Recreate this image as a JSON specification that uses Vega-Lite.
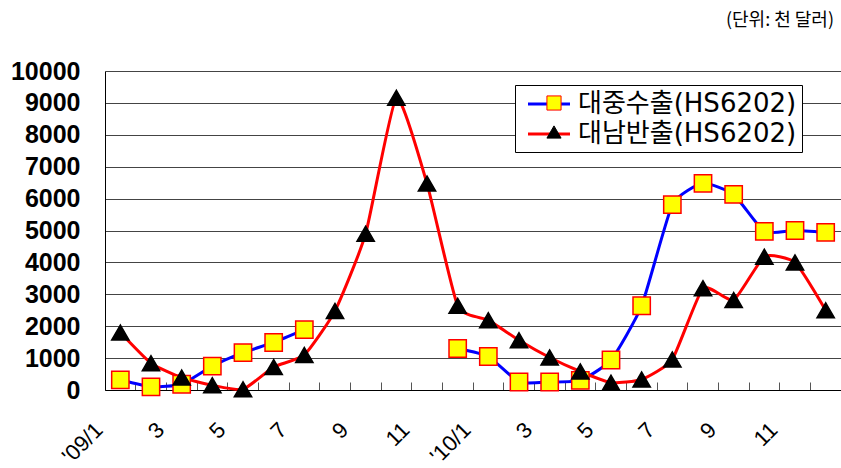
{
  "$schema": "https://vega.github.io/schema/vega-lite/v6.json",
  "width": 736,
  "height": 319,
  "autosize": {"type": "none"},
  "padding": {"left": 105, "top": 71, "right": 0, "bottom": 78},
  "background": "white",
  "title": {
    "text": "(단위: 천 달러)",
    "anchor": "end",
    "orient": "top",
    "offset": 29,
    "dx": -7,
    "font": "Noto Sans CJK KR",
    "fontSize": 18,
    "fontWeight": "normal",
    "color": "black"
  },
  "config": {
    "view": {"stroke": null},
    "legend": {"orient": "none", "title": null}
  },
  "data": {
    "values": [
      {"m": "2009-01", "s": "대중수출(HS6202)", "part": "a", "v": 320},
      {"m": "2009-02", "s": "대중수출(HS6202)", "part": "a", "v": 100},
      {"m": "2009-03", "s": "대중수출(HS6202)", "part": "a", "v": 180},
      {"m": "2009-04", "s": "대중수출(HS6202)", "part": "a", "v": 750},
      {"m": "2009-05", "s": "대중수출(HS6202)", "part": "a", "v": 1170},
      {"m": "2009-06", "s": "대중수출(HS6202)", "part": "a", "v": 1490},
      {"m": "2009-07", "s": "대중수출(HS6202)", "part": "a", "v": 1890},
      {"m": "2009-12", "s": "대중수출(HS6202)", "part": "b", "v": 1300},
      {"m": "2010-01", "s": "대중수출(HS6202)", "part": "b", "v": 1050},
      {"m": "2010-02", "s": "대중수출(HS6202)", "part": "b", "v": 250},
      {"m": "2010-03", "s": "대중수출(HS6202)", "part": "b", "v": 250},
      {"m": "2010-04", "s": "대중수출(HS6202)", "part": "b", "v": 300},
      {"m": "2010-05", "s": "대중수출(HS6202)", "part": "b", "v": 940},
      {"m": "2010-06", "s": "대중수출(HS6202)", "part": "b", "v": 2640},
      {"m": "2010-07", "s": "대중수출(HS6202)", "part": "b", "v": 5810},
      {"m": "2010-08", "s": "대중수출(HS6202)", "part": "b", "v": 6480},
      {"m": "2010-09", "s": "대중수출(HS6202)", "part": "b", "v": 6130},
      {"m": "2010-10", "s": "대중수출(HS6202)", "part": "b", "v": 4970},
      {"m": "2010-11", "s": "대중수출(HS6202)", "part": "b", "v": 5000},
      {"m": "2010-12", "s": "대중수출(HS6202)", "part": "b", "v": 4940},
      {"m": "2009-01", "s": "대남반출(HS6202)", "part": "a", "v": 1800},
      {"m": "2009-02", "s": "대남반출(HS6202)", "part": "a", "v": 840},
      {"m": "2009-03", "s": "대남반출(HS6202)", "part": "a", "v": 390},
      {"m": "2009-04", "s": "대남반출(HS6202)", "part": "a", "v": 150},
      {"m": "2009-05", "s": "대남반출(HS6202)", "part": "a", "v": 20},
      {"m": "2009-06", "s": "대남반출(HS6202)", "part": "a", "v": 720},
      {"m": "2009-07", "s": "대남반출(HS6202)", "part": "a", "v": 1100},
      {"m": "2009-08", "s": "대남반출(HS6202)", "part": "a", "v": 2480},
      {"m": "2009-09", "s": "대남반출(HS6202)", "part": "a", "v": 4900},
      {"m": "2009-10", "s": "대남반출(HS6202)", "part": "a", "v": 9160},
      {"m": "2009-11", "s": "대남반출(HS6202)", "part": "a", "v": 6470},
      {"m": "2009-12", "s": "대남반출(HS6202)", "part": "a", "v": 2640},
      {"m": "2010-01", "s": "대남반출(HS6202)", "part": "a", "v": 2190},
      {"m": "2010-02", "s": "대남반출(HS6202)", "part": "a", "v": 1560},
      {"m": "2010-03", "s": "대남반출(HS6202)", "part": "a", "v": 1020},
      {"m": "2010-04", "s": "대남반출(HS6202)", "part": "a", "v": 580},
      {"m": "2010-05", "s": "대남반출(HS6202)", "part": "a", "v": 230},
      {"m": "2010-06", "s": "대남반출(HS6202)", "part": "a", "v": 330},
      {"m": "2010-07", "s": "대남반출(HS6202)", "part": "a", "v": 960},
      {"m": "2010-08", "s": "대남반출(HS6202)", "part": "a", "v": 3190},
      {"m": "2010-09", "s": "대남반출(HS6202)", "part": "a", "v": 2820},
      {"m": "2010-10", "s": "대남반출(HS6202)", "part": "a", "v": 4180},
      {"m": "2010-11", "s": "대남반출(HS6202)", "part": "a", "v": 4000},
      {"m": "2010-12", "s": "대남반출(HS6202)", "part": "a", "v": 2500}
    ]
  },
  "encoding": {
    "x": {
      "field": "m",
      "type": "ordinal",
      "scale": {"type": "band", "paddingInner": 0, "paddingOuter": 0},
      "axis": {
        "title": null,
        "grid": false,
        "bandPosition": 0,
        "tickSize": -8,
        "tickColor": "#555555",
        "domainColor": "#000000",
        "labelAngle": -45,
        "labelAlign": "right",
        "labelBaseline": "middle",
        "labelOffset": -21,
        "labelPadding": 44,
        "labelFont": "Liberation Sans",
        "labelFontSize": 22,
        "labelColor": "#000000",
        "labelExpr": "toNumber(slice(datum.value,5)) % 2 == 0 ? '' : (slice(datum.value,5) == '01' ? \"'\" + slice(datum.value,2,4) + '/1' : '' + toNumber(slice(datum.value,5)))"
      }
    },
    "y": {
      "field": "v",
      "type": "quantitative",
      "scale": {"domain": [0, 10000], "nice": false},
      "axis": {
        "title": null,
        "values": [0, 1000, 2000, 3000, 4000, 5000, 6000, 7000, 8000, 9000, 10000],
        "format": "d",
        "ticks": false,
        "grid": true,
        "gridColor": "#444444",
        "gridWidth": 1,
        "gridOpacity": 1,
        "domainColor": "#000000",
        "labelPadding": 25,
        "labelFont": "Liberation Sans",
        "labelFontSize": 25,
        "labelFontWeight": "bold",
        "labelColor": "#000000"
      }
    }
  },
  "layer": [
    {
      "mark": {"type": "line", "strokeWidth": 3, "interpolate": "cardinal", "tension": 0.5},
      "encoding": {
        "detail": {"field": "part", "type": "nominal"},
        "color": {
          "field": "s",
          "type": "nominal",
          "scale": {"domain": ["대중수출(HS6202)", "대남반출(HS6202)"], "range": ["#0000FF", "#FF0000"]},
          "legend": {
            "legendX": 410,
            "legendY": 14,
            "padding": 5,
            "fillColor": "#FFFFFF",
            "strokeColor": "#000000",
            "symbolType": "M-0.48,0H2.88",
            "symbolSize": 625,
            "symbolStrokeWidth": 3,
            "labelOffset": 30,
            "labelLimit": 400,
            "labelFont": "DejaVu Sans, Noto Sans CJK KR",
            "labelFontSize": 26,
            "labelColor": "#000000",
            "rowPadding": 3
          }
        }
      }
    },
    {
      "mark": {"type": "point", "filled": true, "opacity": 1, "strokeWidth": 1.5},
      "encoding": {
        "fill": {
          "field": "s",
          "type": "nominal",
          "sort": "descending",
          "scale": {"range": ["#FFFF00", "#000000"]},
          "legend": {
            "legendX": 431,
            "legendY": 14,
            "padding": 5,
            "symbolSize": 200,
            "symbolStrokeWidth": 1,
            "labelOffset": 30,
            "labelLimit": 400,
            "labelFont": "DejaVu Sans, Noto Sans CJK KR",
            "labelFontSize": 26,
            "labelOpacity": 0,
            "rowPadding": 3
          }
        },
        "shape": {
          "field": "s",
          "type": "nominal",
          "sort": "descending",
          "scale": {"range": ["square", "triangle-up"]}
        },
        "stroke": {
          "field": "s",
          "type": "nominal",
          "sort": "descending",
          "scale": {"range": ["#FF0000", "#000000"]}
        },
        "size": {"value": 300}
      }
    }
  ]
}
